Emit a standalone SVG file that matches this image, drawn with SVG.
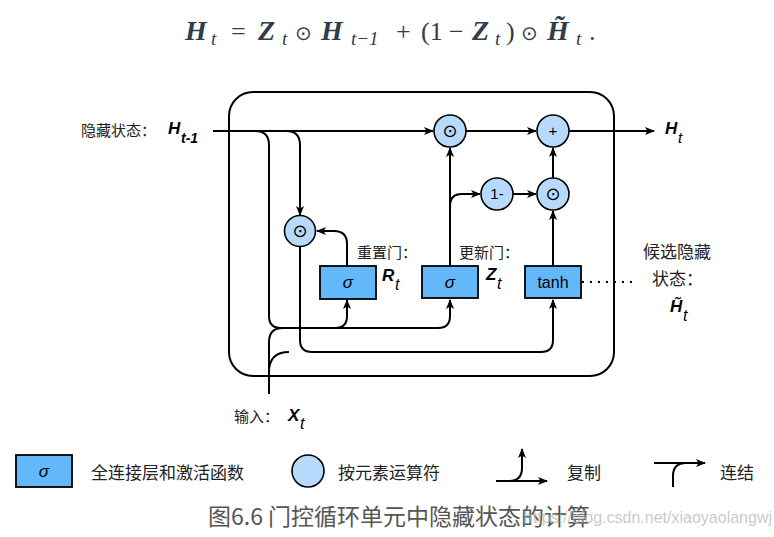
<svg xmlns="http://www.w3.org/2000/svg" width="774" height="537" viewBox="0 0 774 537">
<defs>
<marker id="ah" viewBox="0 0 10 8" refX="9" refY="4" markerWidth="10" markerHeight="8" markerUnits="userSpaceOnUse" orient="auto">
<path d="M0,0 L10,4 L0,8 L2.5,4 z" fill="#000"/>
</marker>
<style>
.ln{fill:none;stroke:#000;stroke-width:2}
.arr{marker-end:url(#ah)}
.op{fill:#b7dafc;stroke:#000;stroke-width:1.6}
.box{fill:#62b8fa;stroke:#000;stroke-width:1.8}
.cjk{font-family:'Noto Sans CJK SC','Noto Sans',sans-serif;fill:#222}
.lat{font-family:'Liberation Sans',Arial,sans-serif;fill:#000}
.bi{font-family:'Liberation Sans',Arial,sans-serif;font-weight:bold;font-style:italic;fill:#000}
.odot{font-family:'DejaVu Sans',sans-serif;font-size:18px;text-anchor:middle;fill:#000}
.eq{font-family:'Liberation Serif','Times New Roman',serif;fill:#2f3d4c;font-size:26px}
.eqb{font-weight:bold;font-style:italic;font-size:28px}
.eqi{font-style:italic;font-size:19px}
</style>
</defs>

<!-- equation -->
<g id="equation">
<text class="eq"><tspan class="eqb" x="185" y="40">H</tspan><tspan class="eqi" x="211" y="45">t</tspan><tspan x="231" y="40">=</tspan><tspan class="eqb" x="258" y="40">Z</tspan><tspan class="eqi" x="282" y="45">t</tspan><tspan x="295" y="40" font-family="'DejaVu Sans',sans-serif" font-size="20">⊙</tspan><tspan class="eqb" x="321" y="40">H</tspan><tspan class="eqi" x="351" y="45">t−1</tspan><tspan x="396" y="40">+</tspan><tspan x="421" y="40">(1</tspan><tspan x="449" y="40">−</tspan><tspan class="eqb" x="472" y="40">Z</tspan><tspan class="eqi" x="495" y="45">t</tspan><tspan x="506" y="40">)</tspan><tspan x="521" y="40" font-family="'DejaVu Sans',sans-serif" font-size="20">⊙</tspan><tspan class="eqb" x="547" y="40">H&#x303;</tspan><tspan class="eqi" x="576" y="45">t</tspan><tspan x="589" y="40">.</tspan></text>
</g>

<!-- frame -->
<g id="frame">
<rect x="229" y="92" width="385" height="284" rx="24" ry="24" class="ln"/>
</g>

<!-- connectors -->
<g id="connectors">
<path class="ln arr" d="M213,131 H433"/>
<path class="ln arr" d="M255,131 Q269,131 269,145 V316 Q269,328 281,328 H438 Q450,328 450,316 V300"/>
<path class="ln arr" d="M335,328 Q347,328 347,316 V300"/>
<path class="ln arr" d="M286,131 Q300,131 300,145 V215"/>
<path class="ln arr" d="M300,247 V340 Q300,352 312,352 H541 Q553,352 553,340 V300"/>
<path class="ln" d="M269,394 V342 Q269,328 283,328"/>
<path class="ln" d="M269,372 Q269,352 289,352"/>
<path class="ln arr" d="M347,266 V244 Q347,231 334,231 H317"/>
<path class="ln arr" d="M450,266 V148"/>
<path class="ln arr" d="M450,206 Q450,194 462,194 H480"/>
<path class="ln arr" d="M513,194 H536"/>
<path class="ln arr" d="M553,266 V211"/>
<path class="ln arr" d="M553,178 V148"/>
<path class="ln arr" d="M466,131 H536"/>
<path class="ln arr" d="M569,131 H654"/>
<path class="ln" d="M582,282 H634" stroke-dasharray="2,6"/>
</g>

<!-- nodes -->
<g id="reset-mul">
<circle cx="300" cy="231" r="15.5" class="op"/>
<text class="odot" x="300" y="237">⊙</text>
</g>
<g id="reset-gate">
<rect x="320" y="266" width="56" height="33" class="box"/>
<text class="lat" x="348" y="288" font-size="17" font-style="italic" text-anchor="middle">σ</text>
</g>
<g id="update-gate">
<rect x="422" y="266" width="56" height="32" class="box"/>
<text class="lat" x="450" y="288" font-size="17" font-style="italic" text-anchor="middle">σ</text>
</g>
<g id="tanh">
<rect x="525" y="266" width="56" height="32" class="box"/>
<text class="lat" x="553" y="288" font-size="16" text-anchor="middle">tanh</text>
</g>
<g id="top-mul">
<circle cx="450" cy="131" r="16" class="op"/>
<text class="odot" x="450" y="137">⊙</text>
</g>
<g id="plus">
<circle cx="553" cy="131" r="16" class="op"/>
<text class="lat" x="553" y="136" font-size="15" text-anchor="middle">+</text>
</g>
<g id="one-minus">
<circle cx="497" cy="194" r="16" class="op"/>
<text class="lat" x="497" y="199" font-size="15" text-anchor="middle">1-</text>
</g>
<g id="low-mul">
<circle cx="553" cy="194" r="16" class="op"/>
<text class="odot" x="553" y="200">⊙</text>
</g>

<!-- labels -->
<g id="labels">
<text class="cjk" x="81" y="136" font-size="15">隐藏状态：</text>
<text class="bi" x="168" y="134" font-size="17">H</text>
<text class="bi" x="181" y="143" font-size="14">t-1</text>
<text class="bi" x="665" y="134" font-size="17">H</text>
<text class="lat" x="678" y="143" font-size="15" font-style="italic">t</text>
<text class="cjk" x="357" y="258" font-size="15">重置门：</text>
<text class="bi" x="382" y="281" font-size="17">R</text>
<text class="lat" x="395" y="290" font-size="16" font-style="italic">t</text>
<text class="cjk" x="459" y="258" font-size="15">更新门：</text>
<text class="bi" x="486" y="280" font-size="17">Z</text>
<text class="lat" x="497" y="289" font-size="16" font-style="italic">t</text>
<text class="cjk" x="643" y="258" font-size="17">候选隐藏</text>
<text class="cjk" x="652" y="285" font-size="17">状态：</text>
<text class="bi" x="670" y="312" font-size="17">H&#x303;</text>
<text class="lat" x="683" y="321" font-size="16" font-style="italic">t</text>
<text class="cjk" x="234" y="422" font-size="15">输入：</text>
<text class="bi" x="288" y="421" font-size="17">X</text>
<text class="lat" x="300" y="429" font-size="16" font-style="italic">t</text>
</g>

<!-- legend -->
<g id="legend-box">
<rect x="16" y="455" width="56" height="32" class="box"/>
<text class="lat" x="44" y="477" font-size="17" font-style="italic" text-anchor="middle">σ</text>
<text class="cjk" x="91" y="479" font-size="17">全连接层和激活函数</text>
</g>
<g id="legend-op">
<circle cx="308" cy="471" r="16" class="op"/>
<text class="cjk" x="338" y="479" font-size="17">按元素运算符</text>
</g>
<g id="legend-copy">
<path class="ln arr" d="M496,481 H547"/>
<path class="ln arr" d="M509,481 Q522,481 522,468 V449"/>
<text class="cjk" x="567" y="479" font-size="17">复制</text>
</g>
<g id="legend-concat">
<path class="ln arr" d="M654,463 H705"/>
<path class="ln" d="M673,487 V476 Q673,463 686,463"/>
<text class="cjk" x="720" y="479" font-size="17">连结</text>
</g>

<!-- caption -->
<g id="caption">
<text class="cjk" x="208" y="525" font-size="23" style="fill:#555">图6.6 门控循环单元中隐藏状态的计算</text>
<text x="772" y="523" font-size="16" text-anchor="end" font-family="'Liberation Sans',Arial,sans-serif" fill="#b8b8b8" fill-opacity="0.75">https://blog.csdn.net/xiaoyaolangwj</text>
</g>
</svg>
